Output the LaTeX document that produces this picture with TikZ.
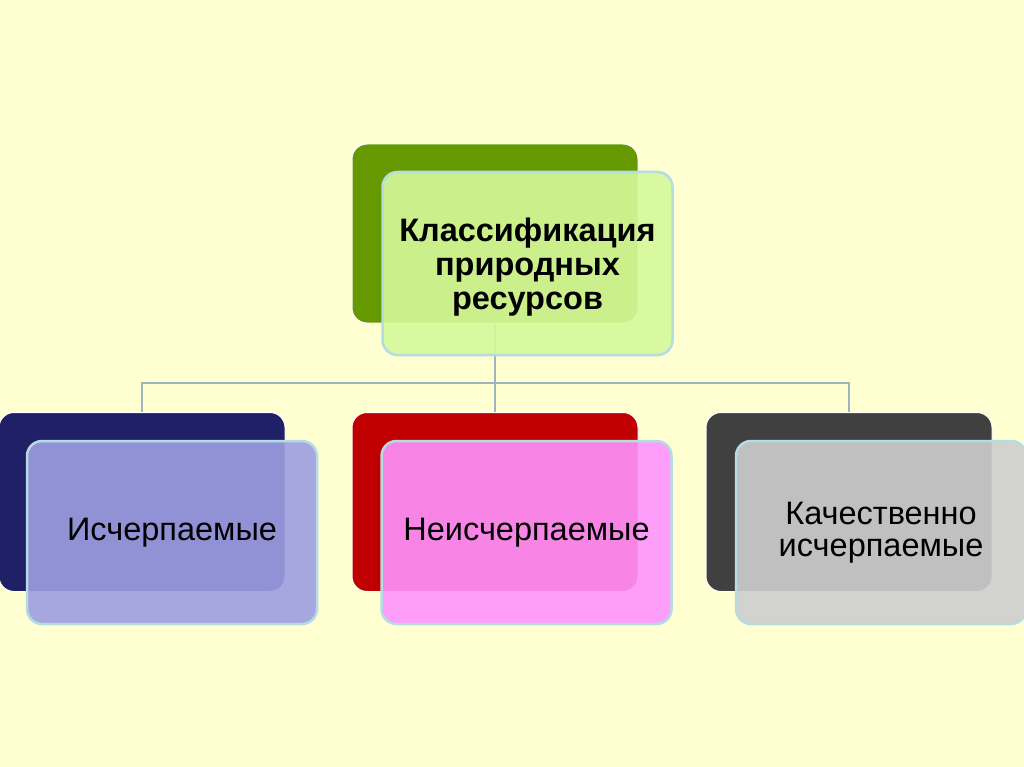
\documentclass[tikz,border=0pt]{standalone}
\usepackage{fontspec}
\setmainfont{Liberation Sans}
\definecolor{bgc}{HTML}{FFFFD2}
\definecolor{linec}{HTML}{9EB4BE}
\definecolor{edgec}{HTML}{B4DCE2}
\definecolor{gback}{HTML}{669900}
\definecolor{gfront}{HTML}{D5F99B}
\definecolor{bback}{HTML}{1F2066}
\definecolor{bfront}{HTML}{9E9EE2}
\definecolor{rback}{HTML}{C00000}
\definecolor{rfront}{HTML}{FF94FF}
\definecolor{kback}{HTML}{404040}
\definecolor{kfront}{HTML}{CECECE}
\tikzset{
  backbox/.style={draw=white, line width=1pt, rounded corners=15pt, minimum width=286pt, minimum height=179pt, inner sep=0pt},
  frontbox/.style={draw=edgec, line width=2.5pt, rounded corners=15pt, minimum width=290pt, minimum height=183pt, inner sep=0pt, fill opacity=0.9, text opacity=1, align=center},
  conn/.style={draw=linec, line width=2.5pt},
  label/.style={font=\fontsize{32.5}{32.5}\selectfont}
}
\begin{document}
\begin{tikzpicture}[x=1pt,y=-1pt]
\useasboundingbox (0,0) rectangle (1024,767);
\fill[bgc] (0,0) rectangle (1024,767);
% back boxes
\node[backbox, fill=gback] (tb) at (495,233.5) {};
\node[backbox, fill=bback] (lb) at (142,502) {};
\node[backbox, fill=rback] (mb) at (495,502) {};
\node[backbox, fill=kback] (rb) at (849,502) {};
% bus
\coordinate (bus) at (495,383);
\draw[conn] (tb.south) -- (tb.south |- bus);
\draw[conn] (tb.south |- bus) -| (lb.north);
\draw[conn] (tb.south |- bus) -- (mb.north);
\draw[conn] (tb.south |- bus) -| (rb.north);
% front boxes
\node[frontbox, fill=gfront, font=\bfseries\fontsize{32.5}{34}\selectfont] (tf) at (527.5,263.5) {\rule{0pt}{30pt}Классификация\\природных\\ресурсов};
\node[frontbox, fill=bfront, label] (lf) at (172,532.5) {Исчерпаемые};
\node[frontbox, fill=rfront, label] (mf) at (526.5,532.5) {Неисчерпаемые};
\node[frontbox, fill=kfront, label] (rf) at (881,532.5) {Качественно\\исчерпаемые};
\end{tikzpicture}
\end{document}
